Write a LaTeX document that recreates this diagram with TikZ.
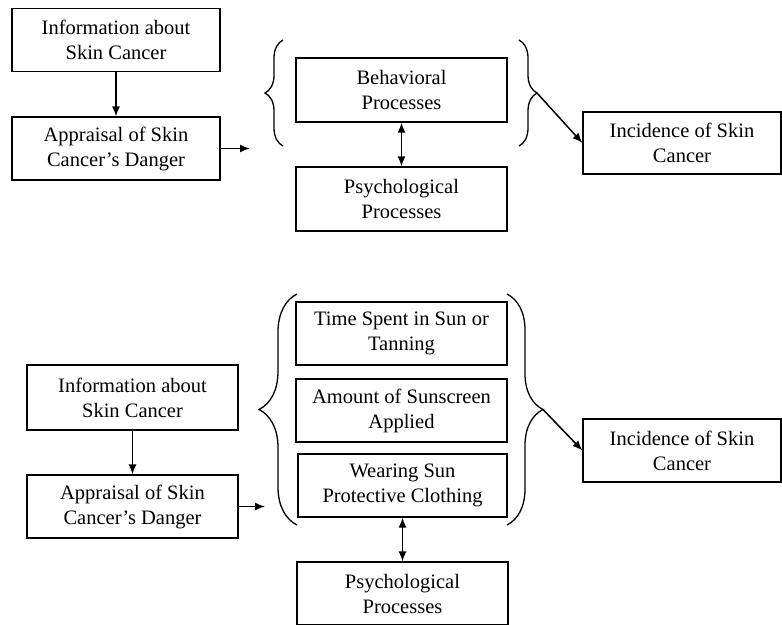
\documentclass[tikz,border=0pt]{standalone}
\usepackage{fontspec}
\setmainfont{Liberation Serif}
\usetikzlibrary{arrows.meta,decorations.pathreplacing}

\tikzstyle{block}=[draw,line width=1.2pt,minimum width=211pt,minimum height=63pt,align=center,inner sep=2pt,font=\fontsize{20.5}{25}\selectfont]
\tikzstyle{flow}=[draw,line width=1.5pt,-{Latex[length=10pt,width=8pt]}]
\tikzstyle{both}=[draw,line width=1.5pt,{Latex[length=10pt,width=8pt]}-{Latex[length=10pt,width=8pt]}]
\tikzstyle{curly}=[draw,line width=1.3pt,decorate]

\begin{document}
\begin{tikzpicture}[x=1pt,y=-1pt]
	\useasboundingbox (0,0) rectangle (782,624);
	% Upper model
	\node[block,minimum width=208pt] (info1) at (116,40) {Information about\\Skin Cancer};
	\node[block,minimum width=208pt] (appr1) at (116,148.5) {Appraisal of Skin\\Cancer’s Danger};
	\node[block,minimum height=64pt] (behav) at (401.5,90) {Behavioral\\Processes};
	\node[block,minimum height=64pt] (psych1) at (401.5,199) {Psychological\\Processes};
	\node[block,minimum width=198pt,minimum height=62pt] (inc1) at (682,143) {Incidence of Skin\\Cancer};
	% Lower model
	\node[block,minimum height=65pt] (info2) at (132.5,397.5) {Information about\\Skin Cancer};
	\node[block] (appr2) at (132.5,506.5) {Appraisal of Skin\\Cancer’s Danger};
	\node[block] (time) at (401.5,333.5) {Time Spent in Sun or\\Tanning};
	\node[block] (amount) at (401.5,410.5) {Amount of Sunscreen\\Applied};
	\node[block,minimum width=209pt] (wear) at (402.5,485.5) {Wearing Sun\\Protective Clothing};
	\node[block] (psych2) at (402.5,593.5) {Psychological\\Processes};
	\node[block,minimum width=198pt] (inc2) at (682,450.5) {Incidence of Skin\\Cancer};
	% Braces round the processes
	\draw[curly,decoration={brace,amplitude=18pt}] (283,146) -- (283,40);
	\draw[curly,decoration={brace,amplitude=18pt}] (519,40) -- (519,146);
	\draw[curly,decoration={brace,amplitude=38pt}] (297,525) -- (297,294);
	\draw[curly,decoration={brace,amplitude=36pt}] (507,294) -- (507,525);
	\coordinate (lb1) at (250,148.5);
	\coordinate (lb2) at (265,506.5);
	\coordinate (rb1) at (537,93);
	\coordinate (rb2) at (543,409.5);
	% Connect the boxes
	\foreach \source/ \dest in {info1/appr1, info2/appr2, appr1/lb1, appr2/lb2, rb1/inc1.west, rb2/inc2.west}
		\path[flow] (\source) -- (\dest);
	\foreach \source/ \dest in {behav/psych1, wear/psych2}
		\path[both] (\source) -- (\dest);
\end{tikzpicture}
\end{document}
